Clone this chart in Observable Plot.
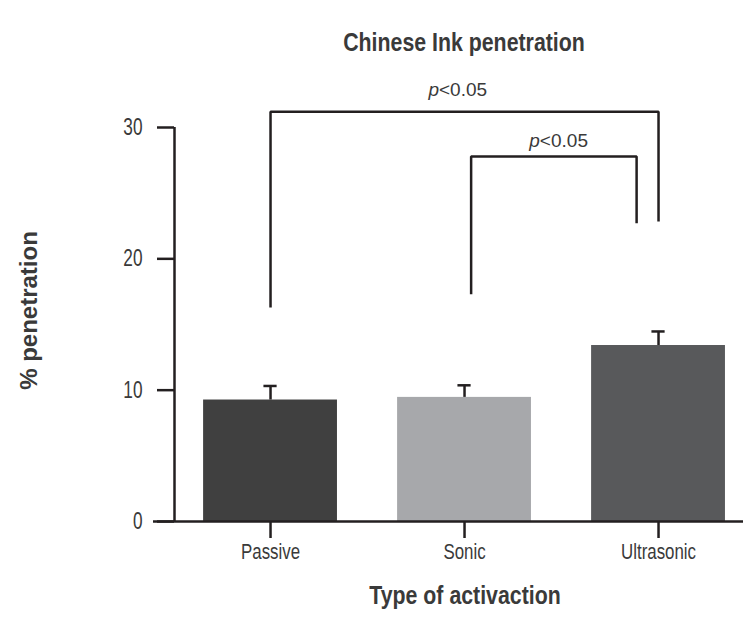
<!DOCTYPE html>
<html>
<head>
<meta charset="utf-8">
<script src="https://cdn.jsdelivr.net/npm/d3@7"></script>
<script src="https://cdn.jsdelivr.net/npm/@observablehq/plot@0.6"></script>
<style>
  html, body { margin: 0; padding: 0; background: #fff; }
  #chart svg { display: block; }
</style>
</head>
<body>
<div id="chart"></div>
<script>
// ---- data ----
const categories = ["Passive", "Sonic", "Ultrasonic"];
const means = [9.25, 9.45, 13.4];
const errors = [1.07, 0.92, 1.07];
const yTicks = [0, 10, 20, 30];

// significance brackets (x in category-index units, y in % penetration)
const bracketX = [[0, 0, 2, 2], [1.034, 1.034, 1.887, 1.887]];
const bracketY = [[16.3, 31.2, 31.2, 22.85], [17.3, 27.8, 27.8, 22.7]];
const pLabels = ["p<0.05", "p<0.05"];
const pLabelX = [0.965, 1.485];
const pLabelY = [32.9, 29.0];

const title = "Chinese Ink penetration";
const xTitle = "Type of activaction";
const yTitle = "% penetration";

// ---- build tables ----
const bars = categories.map((c, i) => ({category: c, i, mean: means[i], err: errors[i]}));
const bracketPts = bracketX.flatMap((xs, b) => xs.map((x, k) => ({id: b, x, y: bracketY[b][k]})));
const labelRows = pLabels.map((t, k) => ({text: t, x: pLabelX[k], y: pLabelY[k]}));

const halfBar = 0.345;
const halfCap = 0.034;
const xDomain = [-0.495, 2.438];
const ink = "#231f20";
const sans = "'Liberation Sans', Arial, sans-serif";

const chart = Plot.plot({
  width: 743,
  height: 618,
  marginTop: 127,
  marginBottom: 97,
  marginLeft: 174,
  marginRight: 0,
  style: {fontFamily: sans, color: "#3a3a3a", background: "#fff", overflow: "visible"},
  x: {type: "linear", domain: xDomain},
  y: {domain: [0, 30]},
  color: {domain: categories, range: ["#404040", "#a7a8ab", "#58595b"]},
  marks: [
    Plot.rectY(bars, {x1: d => d.i - halfBar, x2: d => d.i + halfBar, y: "mean", fill: "category"}),
    Plot.ruleX(bars, {x: "i", y1: "mean", y2: d => d.mean + d.err, stroke: ink, strokeWidth: 2.5}),
    Plot.ruleY(bars, {y: d => d.mean + d.err, x1: d => d.i - halfCap, x2: d => d.i + halfCap, stroke: ink, strokeWidth: 2.5}),
    Plot.axisY({ticks: yTicks, tickSize: 17, tickPadding: 15, stroke: ink, strokeWidth: 2.5, fontSize: 23, label: null, fill: "#3a3a3a"}),
    Plot.axisX({ticks: [0, 1, 2], tickFormat: i => categories[i], tickSize: 17, tickPadding: 5, stroke: ink, strokeWidth: 2.5, fontSize: 22.5, label: null, fill: "#3a3a3a"}),
    Plot.ruleX([xDomain[0]], {stroke: ink, strokeWidth: 2.5}),
    Plot.ruleY([0], {stroke: ink, strokeWidth: 2.5, insetLeft: -21}),
    Plot.line(bracketPts, {x: "x", y: "y", z: "id", stroke: ink, strokeWidth: 2.5, curve: "linear", strokeLinejoin: "miter", strokeLinecap: "butt"}),
    Plot.text(labelRows, {x: "x", y: "y", text: "text", fontSize: 19, fill: "#3a3a3a"}),
    Plot.text([title], {frameAnchor: "top", dx: 5, dy: -95, fontSize: 26, fontWeight: "bold", fill: "#3a3a3a"}),
    Plot.text([xTitle], {frameAnchor: "bottom", dx: 6, dy: 82, fontSize: 26, fontWeight: "bold", fill: "#3a3a3a"}),
    Plot.text([yTitle], {frameAnchor: "left", textAnchor: "middle", dx: -145, dy: -14, rotate: -90, fontSize: 24, fontWeight: "bold", fill: "#3a3a3a"})
  ]
});

// italicise the "p" in the significance labels; condense the other texts
const squeeze = (t, k) => {
  const tr = t.getAttribute("transform");
  if (tr && tr.includes("translate")) {
    t.setAttribute("transform", tr + ` scale(${k},1)`);
  } else {
    const x = +(t.getAttribute("x") || 0);
    t.setAttribute("transform", `translate(${x},0) scale(${k},1) translate(${-x},0)` + (tr ? " " + tr : ""));
  }
};
chart.querySelectorAll("text").forEach(t => {
  const s = t.textContent;
  if (s === "p<0.05") {
    t.textContent = "";
    const ts = document.createElementNS("http://www.w3.org/2000/svg", "tspan");
    ts.setAttribute("font-style", "italic");
    ts.textContent = "p";
    t.appendChild(ts);
    t.appendChild(document.createTextNode("<0.05"));
    return;
  }
  if (s === yTitle) return;
  if (s === title || s === xTitle) squeeze(t, 0.82);
  else squeeze(t, 0.75);
});

document.getElementById("chart").appendChild(chart);
</script>
</body>
</html>
